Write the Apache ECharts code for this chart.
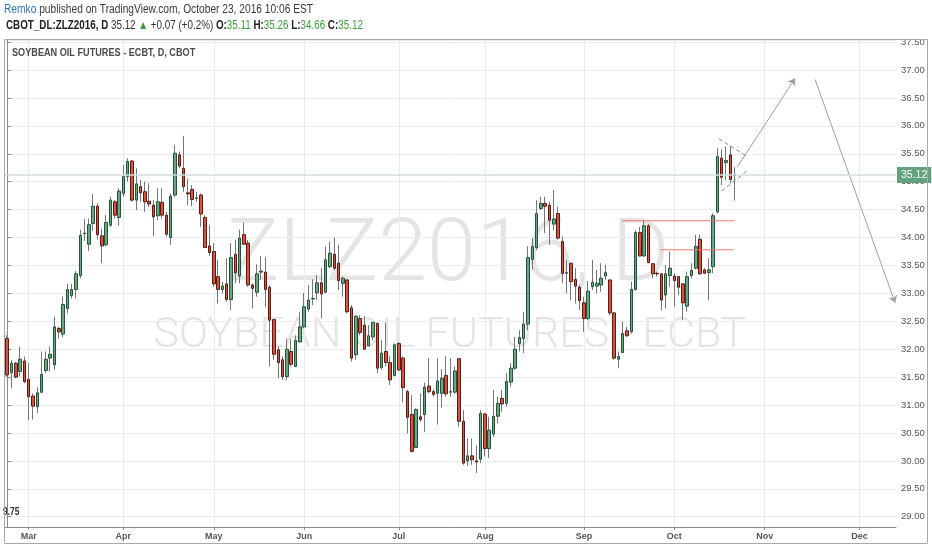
<!DOCTYPE html>
<html><head><meta charset="utf-8">
<script src="https://cdn.jsdelivr.net/npm/echarts@6/dist/echarts.min.js"></script>
<style>html,body{margin:0;padding:0;background:#fff}#c{width:932px;height:550px}</style>
</head><body><div id="c"></div>
<script>
// ---------- data ----------
const firstDay = '2016-02-23';
const totalSlots = 207;           // trading-day slots on the x axis (incl. future)
const holidays = ['2016-03-25','2016-05-30','2016-07-04','2016-09-05'];
const monthNames = ['Jan','Feb','Mar','Apr','May','Jun','Jul','Aug','Sep','Oct','Nov','Dec'];
const priceMin = 28.816, priceMax = 37.537;

const openP = [32.19,31.58,31.75,31.60,31.79,31.46,31.16,30.97,31.23,31.62,
31.84,31.72,32.37,32.27,32.73,32.96,33.07,33.32,34.07,33.88,
34.25,34.56,34.03,33.87,34.22,34.64,34.36,34.79,35.09,35.37,
34.67,34.91,34.82,34.65,34.58,34.39,34.63,34.40,34.00,34.76,
35.48,35.24,34.80,34.86,34.70,34.76,34.36,33.85,33.75,33.30,
33.07,33.17,32.89,33.70,33.31,34.05,33.90,33.15,33.02,33.38,
33.38,33.11,32.53,31.99,31.81,31.51,31.96,31.69,32.13,32.40,
32.72,32.90,33.01,33.19,33.02,33.48,33.70,33.54,33.18,33.24,
32.74,31.90,32.55,32.43,32.06,32.22,32.46,31.67,31.96,31.76,
31.53,32.10,31.84,31.24,30.83,30.24,30.79,30.83,31.34,31.24,
31.21,31.21,31.53,31.23,31.23,31.83,30.71,30.00,30.09,30.00,
30.03,30.84,30.22,30.48,30.80,31.12,31.03,31.41,31.66,32.10,
32.19,32.45,33.61,33.82,34.52,34.61,34.58,34.24,34.43,33.93,
33.36,33.54,33.25,33.11,32.83,32.55,33.12,33.13,33.15,33.31,
33.24,32.65,31.82,31.94,32.33,32.31,33.07,34.09,33.67,34.21,
33.53,33.36,33.35,32.97,33.32,33.31,33.30,33.17,32.77,33.32,
33.45,33.97,33.42,33.37,33.48,34.46,35.42,35.34,35.48,35.11];
const closeP = [31.54,31.75,31.50,31.82,31.42,31.15,30.98,31.22,31.55,31.82,
31.91,32.40,32.31,32.80,33.07,33.07,33.35,34.04,34.08,34.23,
34.56,34.05,33.85,34.27,34.67,34.40,34.83,35.09,35.36,34.67,
34.96,34.80,34.64,34.60,34.37,34.64,34.40,34.06,34.74,35.51,
35.28,34.91,34.78,34.68,34.71,34.42,33.82,33.73,33.17,33.07,
33.13,32.89,33.64,33.37,33.99,33.88,33.15,33.09,33.35,33.40,
33.07,32.52,31.91,31.76,31.51,32.00,31.73,32.16,32.40,32.76,
32.88,32.91,33.19,32.99,33.60,33.72,33.45,33.23,33.27,32.67,
31.84,32.59,32.30,32.00,32.24,32.48,31.66,31.93,31.76,31.45,
32.08,31.63,31.31,30.78,30.17,30.92,30.74,31.32,31.24,31.19,
31.43,31.48,31.20,31.24,31.61,30.71,29.96,30.09,30.02,29.98,
30.85,30.22,30.55,30.80,31.03,31.02,31.42,31.66,32.00,32.21,
32.45,33.64,33.84,34.43,34.61,34.56,34.31,34.33,33.99,33.36,
33.37,33.21,33.13,32.87,32.55,33.04,33.20,33.18,33.27,33.37,
32.65,31.84,31.87,32.28,32.24,33.07,34.09,33.67,34.21,33.55,
33.35,33.35,32.88,33.35,33.45,33.23,33.11,32.83,33.30,33.41,
33.84,33.35,33.36,33.42,34.39,35.45,35.08,35.38,35.04,35.12];
const lowP = [31.50,31.30,31.48,31.51,31.39,30.73,30.74,30.85,31.21,31.57,
31.60,31.63,32.19,32.22,32.64,32.91,32.91,33.27,33.94,33.76,
34.12,33.96,33.54,33.84,34.19,34.34,34.21,34.73,35.00,34.64,
34.49,34.64,34.46,34.55,34.02,34.31,34.34,34.02,33.87,34.73,
35.24,34.82,34.58,34.56,34.64,34.19,33.81,33.67,33.12,32.82,
33.00,32.85,32.70,33.18,33.18,33.87,33.12,32.73,32.94,33.24,
32.76,31.69,31.81,31.48,31.45,31.45,31.69,31.68,32.12,32.37,
32.67,32.79,32.88,32.55,33.00,33.45,33.42,33.06,32.94,32.64,
31.78,31.81,32.25,31.99,32.05,32.16,31.57,31.63,31.69,31.36,
31.51,31.60,31.05,30.49,30.15,30.23,30.70,30.52,31.21,31.15,
30.65,30.95,31.15,31.15,31.21,30.61,29.93,29.91,29.93,29.78,
29.96,30.08,30.05,30.43,30.67,30.88,30.97,31.33,31.63,31.96,
31.93,32.34,33.42,33.78,34.49,34.08,33.87,34.13,33.96,33.18,
33.00,32.88,32.82,32.70,32.31,32.52,33.06,33.00,33.03,33.24,
32.61,31.81,31.66,31.93,32.22,32.28,33.05,33.66,33.66,33.54,
33.27,33.30,32.70,32.73,33.12,32.76,32.97,32.52,32.67,33.27,
33.43,33.33,33.35,32.88,33.36,34.43,34.94,35.03,34.97,34.66];
const highP = [32.25,31.81,31.77,32.05,31.87,31.75,31.21,31.32,31.96,31.96,
32.05,32.58,32.40,32.94,33.17,33.17,33.40,34.14,34.33,34.34,
34.78,34.61,34.16,34.40,34.73,34.67,34.88,35.30,35.42,35.39,
35.24,35.03,35.00,34.97,34.67,34.88,34.88,34.46,34.79,35.66,
35.54,35.82,35.06,34.94,34.82,34.79,34.40,34.22,33.90,33.60,
33.21,33.63,33.90,33.96,34.14,34.27,33.96,33.18,33.52,33.67,
33.65,33.15,32.54,32.05,31.87,32.19,32.19,32.25,32.67,33.01,
33.15,33.25,33.33,33.45,33.84,33.93,34.00,33.87,33.30,33.25,
32.79,32.61,32.61,32.59,32.43,32.49,32.48,32.16,32.48,31.87,
32.10,32.13,31.87,31.27,31.18,30.94,31.21,31.40,31.84,31.28,
31.84,31.64,31.87,31.84,31.69,31.84,30.91,30.40,30.40,30.28,
30.91,30.85,30.79,31.27,31.15,31.27,31.57,31.75,32.22,32.34,
32.67,33.84,33.99,34.67,34.73,34.73,34.64,34.85,34.55,34.02,
33.60,33.54,33.45,33.15,32.94,33.22,33.60,33.42,33.54,33.51,
33.25,32.67,31.96,32.49,32.40,33.21,34.13,34.19,34.30,34.24,
33.54,33.39,33.36,33.51,33.75,33.36,33.31,33.18,33.39,33.54,
34.05,34.05,33.45,33.63,34.43,35.60,35.58,35.63,35.64,35.26];

// chart drawings, in [bar index, price]
const resistanceHigh = [[142.85, 34.30],[169.0, 34.30]];
const resistanceLow  = [[151.7, 33.78],[168.7, 33.78]];
const pennantTop     = [[165.3, 35.77],[171.9, 35.45]];
const pennantBottom  = [[166.0, 34.83],[171.8, 35.19]];
const arrowUp        = [[169.6, 35.26],[183.05, 36.85]];
const arrowDown      = [[187.7, 36.83],[206.3, 32.83]];

// ---------- build ----------
function buildDates(){
  const out=[]; const d=new Date(firstDay+'T00:00:00Z');
  while(out.length<totalSlots){
    const wd=d.getUTCDay(); const s=d.toISOString().slice(0,10);
    if(wd!==0&&wd!==6&&!holidays.includes(s)) out.push(s);
    d.setUTCDate(d.getUTCDate()+1);
  }
  return out;
}
const dates = buildDates();
const isMonthStart = i => i>0 && dates[i].slice(5,7)!==dates[i-1].slice(5,7);
const wickData = openP.map((o,i)=>[o, closeP[i], lowP[i], highP[i]]);
const bodyData = openP.map((o,i)=>[o, closeP[i], Math.min(o,closeP[i]), Math.max(o,closeP[i])]);
const lastClose = closeP[closeP.length-1];

const SANS = "'Liberation Sans',Arial,sans-serif";
const GREEN = '#3a9d3a';

function drawing(name, pts, color, type){
  return {type:'line', name, xAxisIndex:1, yAxisIndex:0, data:pts, silent:true, z:4,
    symbol:'none', showSymbol:false, color, itemStyle:{color},
    lineStyle:{color, width:1, type:type||'solid', opacity:1}};
}

const chart = echarts.init(document.getElementById('c'), null, {renderer:'canvas'});
chart.setOption({
  animation:false,
  backgroundColor:'#ffffff',
  grid:{left:5, right:36, top:40, bottom:23, containLabel:false},
  xAxis:[{
    type:'category', data:dates, boundaryGap:true,
    axisLine:{lineStyle:{color:'#8c8c8c', width:1}},
    axisTick:{show:true, alignWithLabel:true, interval:(i)=>isMonthStart(i), length:3, lineStyle:{color:'#8c8c8c'}},
    axisLabel:{interval:(i)=>isMonthStart(i), formatter:v=>monthNames[+v.slice(5,7)-1],
      color:'#555', fontSize:9, fontWeight:'bold', fontFamily:SANS, margin:5},
    splitLine:{show:true, alignWithLabel:true, interval:(i)=>isMonthStart(i), lineStyle:{color:'#e9ecef', width:1}}
  },{
    type:'value', min:-0.5, max:totalSlots-0.5, show:false
  }],
  yAxis:{
    type:'value', position:'right', min:priceMin, max:priceMax, scale:true,
    splitNumber:17, minInterval:0.5, maxInterval:0.5,
    axisLine:{show:true, lineStyle:{color:'#8c8c8c', width:1}},
    axisTick:{show:true, length:4, lineStyle:{color:'#8c8c8c'}},
    axisLabel:{formatter:v=>v.toFixed(2), color:'#555', fontSize:9.5, fontFamily:SANS, margin:5, showMinLabel:false, showMaxLabel:false},
    splitLine:{show:true, lineStyle:{color:'#e9ecef', width:1}}
  },
  graphic:[
    {type:'text', z:0, x:448, y:258, style:{text:'ZLZ2016, D', fontSize:88, fontWeight:300, fontFamily:'Roboto', fill:'#e4e4e4', textAlign:'center', textVerticalAlign:'middle'}},
    {type:'text', z:0, x:450, y:336, style:{text:'SOYBEAN OIL FUTURES - ECBT', fontSize:43, fontWeight:300, fontFamily:'Roboto', fill:'#e4e4e4', textAlign:'center', textVerticalAlign:'middle'}},
    {type:'text', z:10, x:4, y:10, scaleX:0.85, style:{text:'{u|Remko}{t| published on TradingView.com, October 23, 2016 10:06 EST}', textVerticalAlign:'middle',
      rich:{u:{fill:'#2a77b8', fontSize:12, fontFamily:SANS}, t:{fill:'#3a3a3a', fontSize:12, fontFamily:SANS}}}},
    {type:'text', z:10, x:6, y:26, scaleX:0.82, style:{text:'{b|CBOT_DL:ZLZ2016, D}{n| 35.12 }{g|▲}{n| +0.07 (+0.2%) }{b|O:}{g|35.11}{b| H:}{g|35.26}{b| L:}{g|34.66}{b| C:}{g|35.12}', textVerticalAlign:'middle',
      rich:{b:{fill:'#222', fontSize:12, fontWeight:'bold', fontFamily:SANS}, n:{fill:'#333', fontSize:12, fontFamily:SANS}, g:{fill:GREEN, fontSize:12, fontFamily:SANS}}}},
    {type:'text', z:10, x:12, y:53, scaleX:0.87, style:{text:'SOYBEAN OIL FUTURES - ECBT, D, CBOT', fill:'#4a4a4a', fontSize:10.5, fontWeight:'bold', fontFamily:SANS, textVerticalAlign:'middle'}},
    {type:'text', z:10, x:3, y:512, scaleX:0.85, style:{text:'9.75', fill:'#333', fontSize:10, fontWeight:'bold', fontFamily:SANS, textVerticalAlign:'middle'}},
    {type:'rect', z:10, shape:{x:4.5, y:39.5, width:923, height:504}, style:{fill:'none', stroke:'#a8a8a8', lineWidth:1}}
  ],
  series:[
    {type:'candlestick', name:'wick', data:wickData, barWidth:1, silent:true,
      itemStyle:{color:'#76767a', color0:'#76767a', borderColor:'#76767a', borderColor0:'#76767a', borderWidth:1}},
    {type:'candlestick', name:'body', data:bodyData, barWidth:3, silent:true,
      itemStyle:{color:'#6ba583', color0:'#d75442', borderColor:'#225437', borderColor0:'#5b1a13', borderWidth:1},
      markLine:{silent:true, symbol:['none','none'], animation:false,
        data:[{yAxis:lastClose, lineStyle:{color:'#d3dce2', width:1.5, type:'solid'},
          label:{show:true, position:'end', formatter:lastClose.toFixed(2), color:'#fff', backgroundColor:'#62a27e',
            padding:[3,4,2,4], fontSize:10.5, fontFamily:SANS, distance:1}}]}},
    drawing('resistanceHigh', resistanceHigh, '#f07470'),
    drawing('resistanceLow', resistanceLow, '#f07470'),
    drawing('pennantTop', pennantTop, '#8a8a8a', [4,3]),
    drawing('pennantBottom', pennantBottom, '#8a8a8a', [4,3]),
    {type:'lines', name:'arrows', coordinateSystem:'cartesian2d', xAxisIndex:1, yAxisIndex:0, silent:true,
      symbol:['none','arrow'], symbolSize:7, lineStyle:{color:'#a0a0a0', width:1, type:'solid', opacity:1},
      data:[{coords:arrowUp},{coords:arrowDown}]}
  ]
});
</script></body></html>
